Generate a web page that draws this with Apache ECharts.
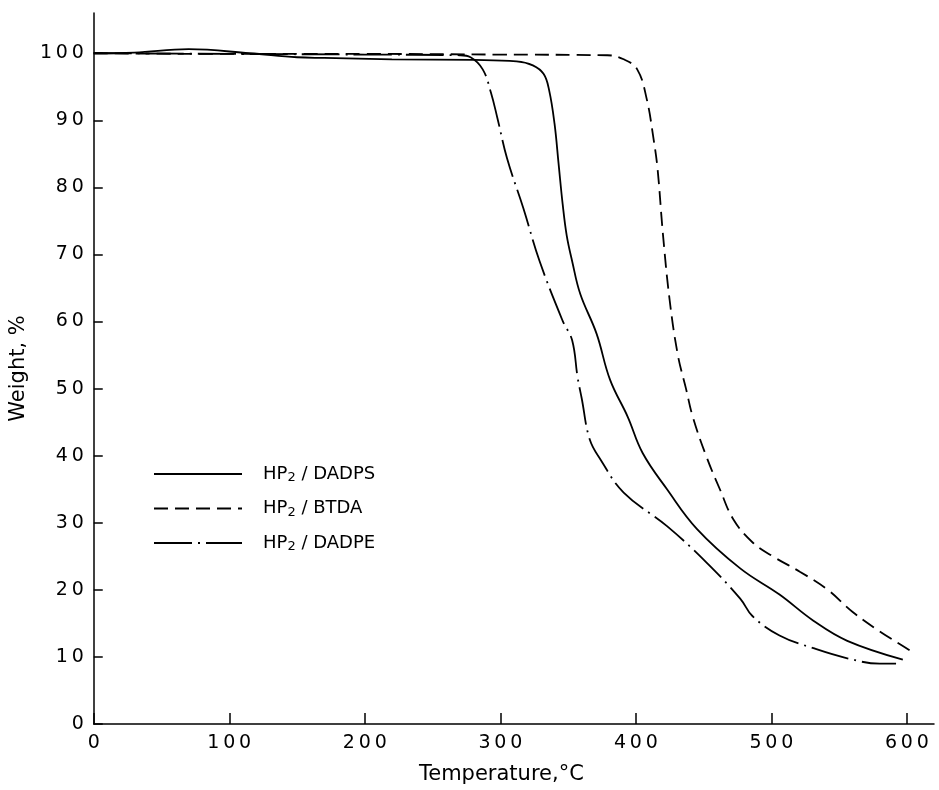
<!DOCTYPE html>
<html>
<head>
<meta charset="utf-8">
<script src="https://cdn.jsdelivr.net/npm/echarts@6/dist/echarts.min.js"></script>
<style>
  html, body { margin: 0; padding: 0; background: #fff; }
  #main { width: 939px; height: 790px; }
</style>
</head>
<body>
<div id="main"></div>
<script>
// TGA curves: temperature (°C) and weight (%)
var dadpsTemp = [0, 30, 70, 115, 150, 170, 220, 280, 312, 324, 332, 336, 340, 343, 346, 349, 353, 359, 371, 381, 394, 405, 423, 445, 477, 506, 531, 556, 597];
var dadpsWeight = [100, 100.1, 100.6, 100, 99.4, 99.3, 99.1, 99.0, 98.8, 98.2, 96.9, 94.5, 89.5, 83.5, 77.5, 72.8, 69.0, 64.1, 58.2, 51.3, 45.8, 40.4, 35.0, 29.1, 23.2, 19.3, 15.4, 12.4, 9.6];

var btdaTemp = [0, 100, 200, 300, 379, 391, 401, 408, 413, 416, 420, 425, 431, 437, 442, 452, 462, 472, 486, 501, 521, 541, 560, 580, 602];
var btdaWeight = [100, 99.9, 99.9, 99.8, 99.7, 99.1, 97.6, 93.2, 87.3, 82.8, 73.0, 63.1, 55.0, 50.0, 45.8, 39.9, 35.0, 30.5, 27.1, 25.0, 22.7, 20.1, 16.7, 13.8, 11.0];

var dadpeTemp = [0, 100, 200, 270, 278, 287, 293, 298, 305, 317, 329, 346, 353, 357, 360, 366, 374, 391, 423, 452, 477, 486, 506, 531, 556, 580, 592];
var dadpeWeight = [100, 99.9, 99.8, 99.7, 99.4, 97.6, 94.2, 90.2, 84.3, 76.9, 69.0, 60.1, 57.2, 51.7, 48.6, 42.4, 39.4, 34.5, 29.5, 24.1, 18.7, 16.1, 13.2, 11.3, 9.8, 9.0, 9.0];

var seriesNames = ["HP2 / DADPS", "HP2 / BTDA", "HP2 / DADPE"];

function pairs(xs, ys) {
  var out = [];
  for (var i = 0; i < xs.length; i++) {
    out.push([xs[i], ys[i]]);
  }
  return out;
}

// spread the digits a bit, like the typed labels
function spaced(v) {
  return String(v).split("").join("\u2009");
}

var font = "DejaVu Sans";
var myChart = echarts.init(document.getElementById("main"));

myChart.setOption({
  backgroundColor: "#fff",
  animation: false,
  legend: {
    left: 148,
    top: 460,
    orient: "vertical",
    itemWidth: 88,
    itemHeight: 18,
    itemGap: 15,
    data: seriesNames,
    itemStyle: { opacity: 0 },
    formatter: function (name) {
      return name.replace("HP2", "HP{sub|2}");
    },
    textStyle: {
      fontFamily: font,
      fontSize: 18,
      color: "#000",
      padding: [0, 0, 0, 16],
      rich: {
        sub: { fontFamily: font, fontSize: 13, color: "#000", padding: [8, 0, 0, 0] }
      }
    }
  },
  grid: {
    left: 93,
    right: 5,
    top: 13,
    bottom: 63,
    containLabel: false
  },
  xAxis: {
    type: "value",
    min: 0,
    max: 620,
    interval: 100,
    name: "Temperature,°C",
    nameLocation: "middle",
    nameGap: 40,
    nameTextStyle: { fontFamily: font, fontSize: 21, color: "#000", padding: [0, 25, 0, 0] },
    axisLine: { onZero: false, lineStyle: { color: "#000", width: 1.5 } },
    axisTick: { inside: true, length: 11, lineStyle: { color: "#000", width: 1.5 } },
    splitLine: { show: false },
    axisLabel: {
      margin: 10,
      fontFamily: font,
      fontSize: 19,
      color: "#000",
      showMaxLabel: false,
      formatter: function (v) {
        return v % 100 === 0 ? spaced(v) : "";
      }
    }
  },
  yAxis: {
    type: "value",
    min: 0,
    max: 106,
    interval: 10,
    name: "Weight, %",
    nameLocation: "middle",
    nameGap: 64,
    nameTextStyle: { fontFamily: font, fontSize: 21, color: "#000" },
    axisLine: { onZero: false, lineStyle: { color: "#000", width: 1.5 } },
    axisTick: { inside: true, length: 9, lineStyle: { color: "#000", width: 1.5 } },
    splitLine: { show: false },
    axisLabel: {
      margin: 10,
      fontFamily: font,
      fontSize: 19,
      color: "#000",
      showMaxLabel: false,
      formatter: function (v) {
        return v % 10 === 0 ? spaced(v) : "";
      }
    }
  },
  series: [
    {
      name: seriesNames[0],
      type: "line",
      symbol: "none",
      smooth: 0.4,
      data: pairs(dadpsTemp, dadpsWeight),
      lineStyle: { color: "#000", width: 1.8, type: "solid" },
      itemStyle: { color: "#000" }
    },
    {
      name: seriesNames[1],
      type: "line",
      symbol: "none",
      smooth: 0.4,
      data: pairs(btdaTemp, btdaWeight),
      lineStyle: { color: "#000", width: 1.8, type: [14, 7] },
      itemStyle: { color: "#000" }
    },
    {
      name: seriesNames[2],
      type: "line",
      symbol: "none",
      smooth: 0.4,
      data: pairs(dadpeTemp, dadpeWeight),
      lineStyle: { color: "#000", width: 1.8, type: [38, 6, 2, 6] },
      itemStyle: { color: "#000" }
    }
  ]
});
</script>
</body>
</html>
